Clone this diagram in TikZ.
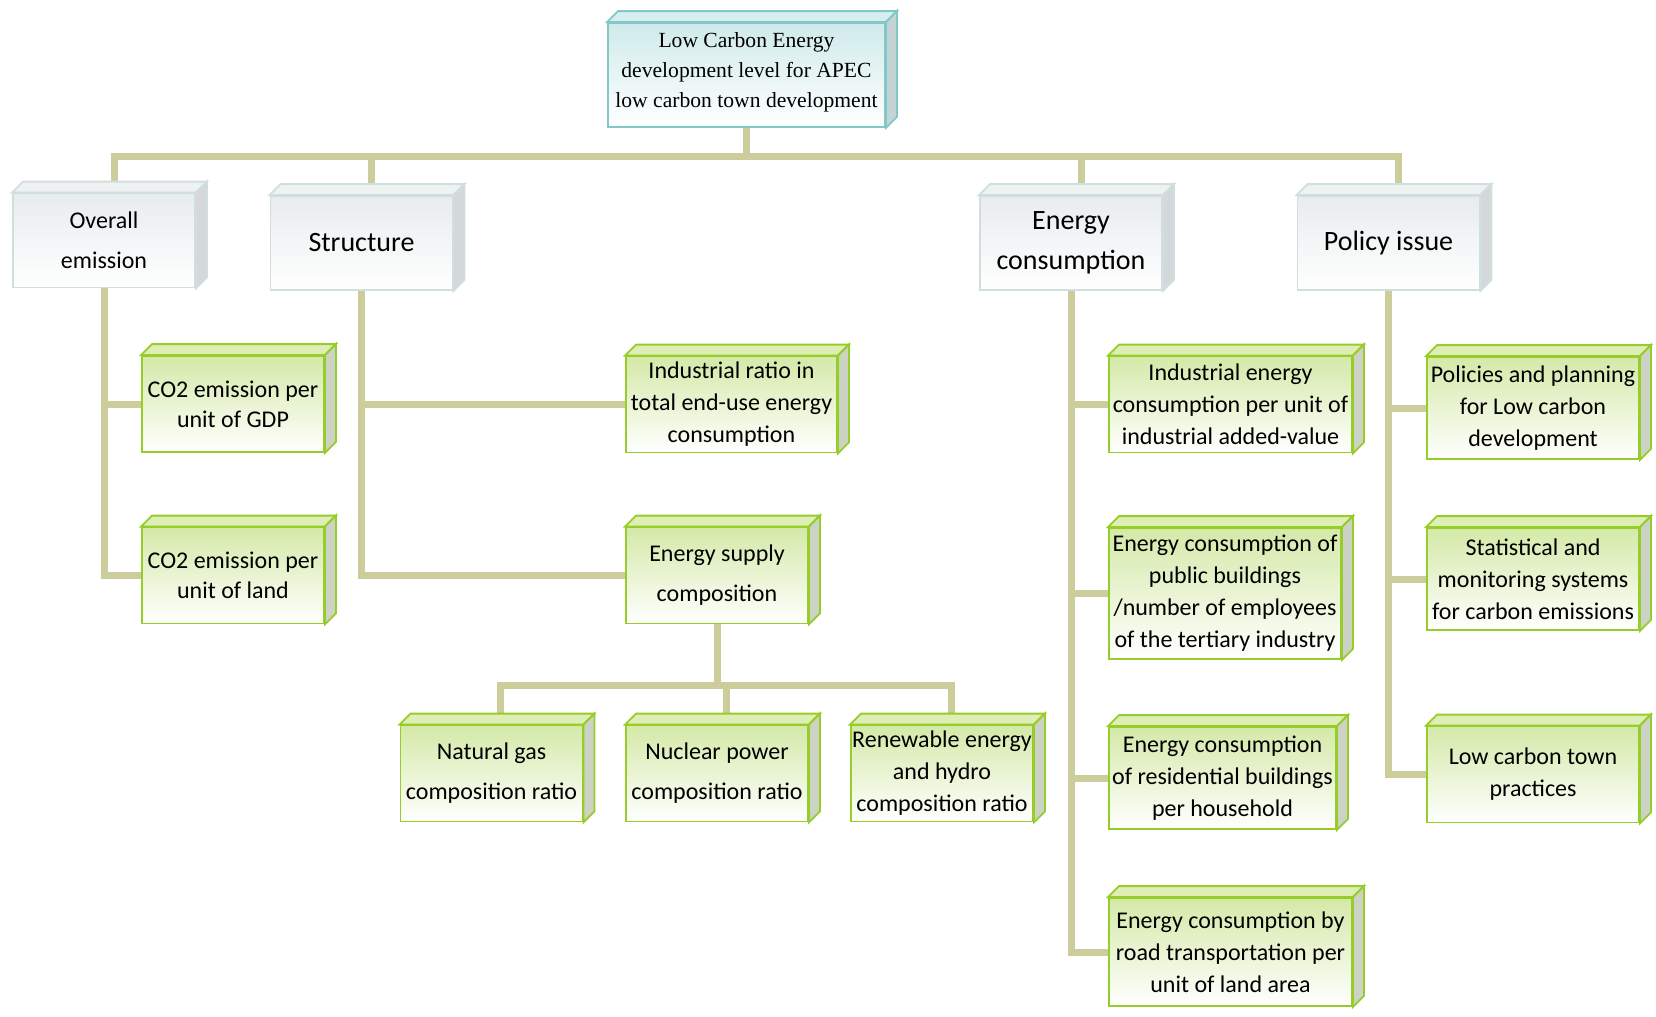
\documentclass[tikz,border=0pt]{standalone}
\usepackage{fontspec}
\setmainfont{Carlito}
\newfontfamily\serifbox{Liberation Serif}
\usetikzlibrary{calc, backgrounds}

\definecolor{barcol}{RGB}{205,204,155}
\definecolor{gline}{RGB}{150,205,40}
\definecolor{gfront}{RGB}{212,233,168}
\definecolor{gtop}{RGB}{222,238,182}
\definecolor{gside}{RGB}{204,210,196}
\definecolor{hline}{RGB}{208,222,222}
\definecolor{hfront}{RGB}{232,236,238}
\definecolor{htop}{RGB}{238,242,242}
\definecolor{hside}{RGB}{212,216,218}
\definecolor{tline}{RGB}{130,200,200}
\definecolor{tfront}{RGB}{208,234,234}
\definecolor{ttop}{RGB}{216,238,238}
\definecolor{tside}{RGB}{196,212,212}

\begin{document}
\begin{tikzpicture}[x=0.5pt, y=-0.5pt,
    bar/.style={draw=barcol, line width=3.5pt},
    gbox/.style={draw=gline, line width=0.9pt, top color=gfront, bottom color=white,
      align=center, inner sep=0pt, minimum width=91pt, minimum height=48pt,
      font=\fontsize{12}{16}\selectfont, execute at begin node={\rule{0pt}{12.5pt}}},
    hbox/.style={draw=hline, line width=0.9pt, top color=hfront, bottom color=white,
      align=center, inner sep=0pt, minimum width=91pt, minimum height=47pt,
      font=\fontsize{14}{20}\selectfont},
    tbox/.style={draw=tline, line width=0.9pt, top color=tfront, bottom color=white,
      align=center, inner sep=0pt, minimum width=138.5pt, minimum height=52pt,
      font=\serifbox\fontsize{10.8}{14.8}\selectfont},
  ]
    \useasboundingbox (0,0) rectangle (1656,1017);

    % root
    \node[tbox, text depth=5pt] (root) at (746.5,75) {Low Carbon Energy\\development level for APEC\\low carbon town development};

    % level 1
    \node[hbox, font=\fontsize{12}{20}\selectfont] (overall) at (104,240.5) {Overall\\emission};
    \node[hbox] (structure) at (361.5,243) {Structure};
    \node[hbox] (energy) at (1071,243) {Energy\\consumption};
    \node[hbox] (policy) at (1388.5,243) {Policy issue};

    % overall emission
    \node[gbox, font=\fontsize{12}{15}\selectfont] (co2gdp) at (233,404) {CO2 emission per\\unit of GDP};
    \node[gbox, font=\fontsize{12}{15}\selectfont] (co2land) at (233,575.5) {CO2 emission per\\unit of land};

    % structure
    \node[gbox, minimum width=105.5pt] (indratio) at (731.5,404.5) {Industrial ratio in\\total end-use energy\\consumption};
    \node[gbox, font=\fontsize{12}{20}\selectfont] (supply) at (717,575.5) {Energy supply\\composition};
    \node[gbox, font=\fontsize{12}{20}\selectfont] (gas) at (491.5,773.5) {Natural gas\\composition ratio};
    \node[gbox, font=\fontsize{12}{20}\selectfont] (nuclear) at (717,773.5) {Nuclear power\\composition ratio};
    \node[gbox] (renew) at (942,773.5) {Renewable energy\\and hydro\\composition ratio};

    % energy consumption
    \node[gbox, minimum width=121.5pt] (indenergy) at (1230.5,404.5) {Industrial energy\\consumption per unit of\\industrial added-value};
    \node[gbox, minimum width=116pt, minimum height=65.5pt] (public) at (1225,593.5) {Energy consumption of\\public buildings\\/number of employees\\of the tertiary industry};
    \node[gbox, minimum width=113.5pt, minimum height=51pt] (resid) at (1222.5,778) {Energy consumption\\of residential buildings\\per household};
    \node[gbox, minimum width=121.5pt, minimum height=54pt] (road) at (1230.5,952) {Energy consumption by\\road transportation per\\unit of land area};

    % policy issue
    \node[gbox, minimum width=106pt, minimum height=51pt] (policies) at (1533,408) {Policies and planning\\for Low carbon\\development};
    \node[gbox, minimum width=106pt, minimum height=51pt] (stat) at (1533,579) {Statistical and\\monitoring systems\\for carbon emissions};
    \node[gbox, minimum width=106pt] (lowtown) at (1533,774.5) {Low carbon town\\practices};

    % 3d faces
    \foreach \n/\t/\s/\l in {root/ttop/tside/tline, overall/htop/hside/hline, structure/htop/hside/hline,
        energy/htop/hside/hline, policy/htop/hside/hline}{
      \filldraw[fill=\t, draw=\l, line width=0.9pt] (\n.north west) -- ++(11,-11) -- ($(\n.north east)+(11,-11)$) -- (\n.north east) -- cycle;
      \filldraw[fill=\s, draw=\l, line width=0.9pt] (\n.north east) -- ++(11,-11) -- ($(\n.south east)+(11,-11)$) -- (\n.south east) -- cycle;
    }
    \foreach \n in {co2gdp, co2land, indratio, supply, gas, nuclear, renew,
        indenergy, public, resid, road, policies, stat, lowtown}{
      \filldraw[fill=gtop, draw=gline, line width=0.9pt] (\n.north west) -- ++(11,-11) -- ($(\n.north east)+(11,-11)$) -- (\n.north east) -- cycle;
      \filldraw[fill=gside, draw=gline, line width=0.9pt] (\n.north east) -- ++(11,-11) -- ($(\n.south east)+(11,-11)$) -- (\n.south east) -- cycle;
    }

    % connectors
    \begin{scope}[on background layer]
      \draw[bar] (root.south) -- ++(0,29) coordinate (bus);
      \foreach \n in {overall, structure, energy, policy}
        \draw[bar] (bus) -| ($(\n.north)+(10,0)$);

      \draw[bar] (overall.south) |- (co2gdp.west);
      \draw[bar] (overall.south) |- (co2land.west);

      \draw[bar] (structure.south) |- (indratio.west);
      \draw[bar] (structure.south) |- (supply.west);
      \draw[bar] (supply.south) -- ++(0,61) coordinate (sbus);
      \foreach \n in {gas, nuclear, renew}
        \draw[bar] (sbus) -| ($(\n.north)+(9,0)$);

      \foreach \n in {indenergy, public, resid, road}
        \draw[bar] (energy.south) |- (\n.west);

      \foreach \n in {policies, stat, lowtown}
        \draw[bar] (policy.south) |- (\n.west);
    \end{scope}

\end{tikzpicture}
\end{document}
